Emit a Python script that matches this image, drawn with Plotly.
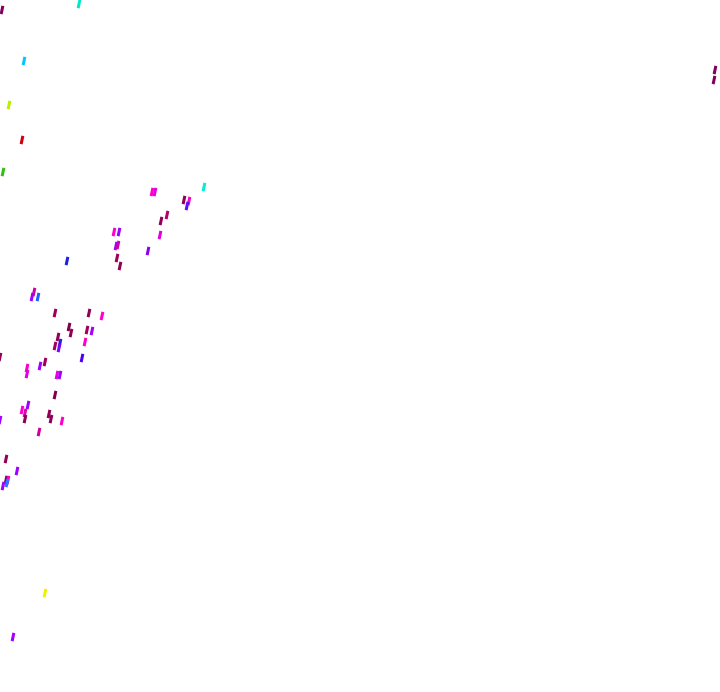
import plotly.graph_objects as go

# Read-off positions (chart units match the visible frame) and colours of each mark
mark_x = [2, 79, 24, 9, 22, 3, 152, 155, 204, 184, 189, 187, 161, 167, 114, 119, 160,
          116, 118, 148, 117, 120, 67, 34, 32, 38, 55, 89, 102, 69, 71, 87, 92, 85,
          58, 55, 60, 59, 82, 0, 27, 27, 40, 45, 57, 60, 55, 28, 22, 25, 25, 49, 51,
          62, 0, 39, 6, 17, 6, 8, 7, 3, 45, 13, 715, 714]
mark_y = [10, 4, 61, 105, 140, 172, 192, 192, 187, 200, 201, 206, 221, 215, 232, 232, 235,
          246, 245, 251, 258, 266, 261, 292, 297, 297, 313, 313, 316, 327, 333, 330, 331, 342,
          337, 346, 343, 348, 358, 357, 368, 374, 366, 362, 375, 375, 395, 405, 410, 413, 419,
          414, 419, 421, 420, 432, 459, 471, 480, 480, 483, 486, 593, 637, 70, 80]
mark_color = ["#800060", "#00E8C8", "#00C8FF", "#B8F000", "#D00010", "#30C010", "#FF00CC",
              "#E000E0", "#00F0D0", "#900058", "#FF00CC", "#6010FF", "#900058", "#B00070",
              "#FF00CC", "#A000FF", "#E000E0", "#A000FF", "#D000B0", "#9000F0", "#A0005A",
              "#900058", "#2020E0", "#D000A0", "#A000FF", "#2060FF", "#A0005A", "#900058",
              "#FF00CC", "#800050", "#900058", "#A0005A", "#A000FF", "#FF00CC", "#900058",
              "#A0005A", "#2020E0", "#8000FF", "#5000F0", "#900058", "#FF00CC", "#E000E0",
              "#A000FF", "#A0005A", "#E000E0", "#A000FF", "#800050", "#A000FF", "#FF00CC",
              "#E000B0", "#900058", "#900058", "#900058", "#FF00CC", "#A000FF", "#D000A0",
              "#900058", "#A000FF", "#900058", "#FF00CC", "#2080FF", "#A000FF", "#F0F000",
              "#A000FF", "#800060", "#800060"]

fig = go.Figure(go.Scatter(
    x=mark_x, y=mark_y, mode="markers", cliponaxis=False,
    marker=dict(symbol="line-ns", size=6, angle=12,
                line=dict(width=3, color=mark_color)),
    hoverinfo="skip", showlegend=False,
))
fig.update_layout(
    width=720, height=692, margin=dict(l=0, r=0, t=0, b=0),
    paper_bgcolor="white", plot_bgcolor="white",
    xaxis=dict(range=[0, 720], visible=False),
    yaxis=dict(range=[692, 0], visible=False),
)
fig.write_html("out.html", config={"displayModeBar": False},
               post_script="document.body.style.margin='0';document.body.style.overflow='hidden';")
